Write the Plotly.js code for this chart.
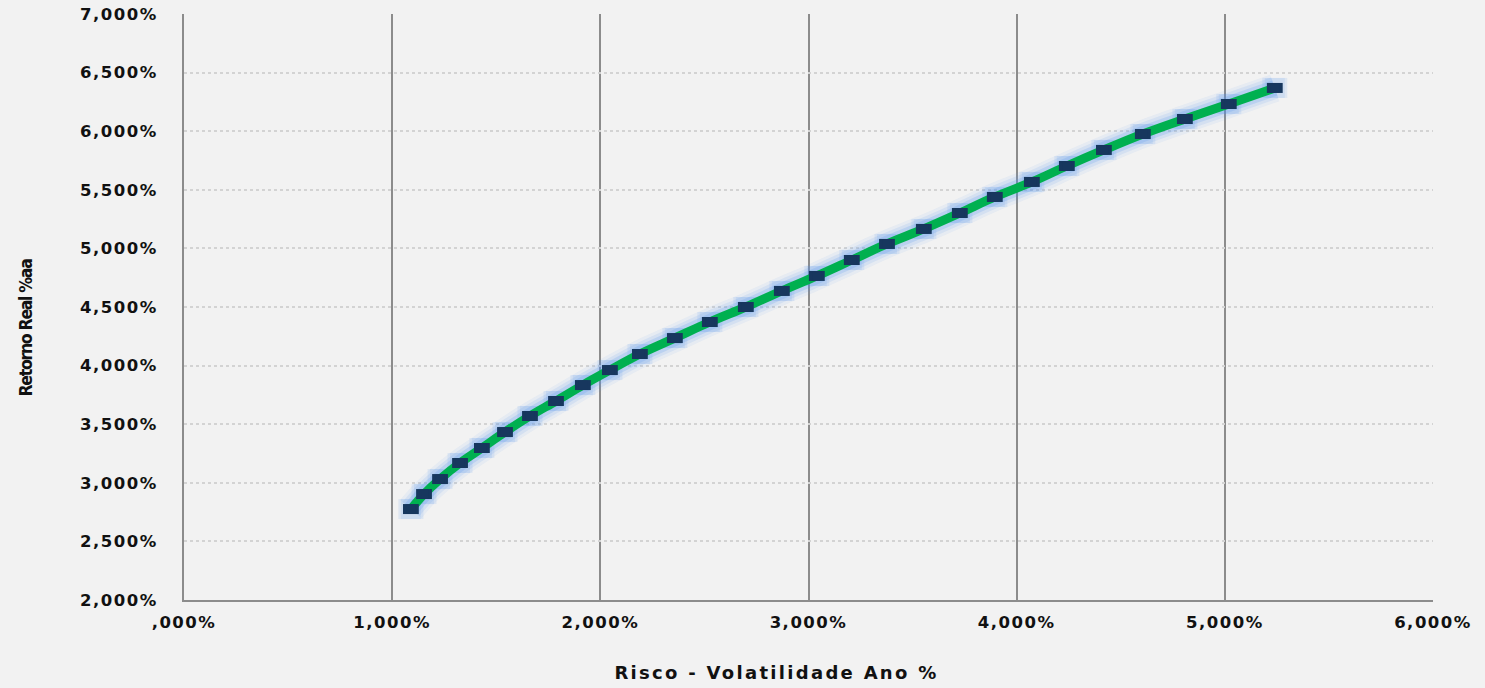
<!DOCTYPE html>
<html>
<head>
<meta charset="utf-8">
<script src="https://cdn.plot.ly/plotly-3.0.1.min.js"></script>
<style>
html,body{margin:0;padding:0;background:#F2F2F2;}
#chart{width:1485px;height:688px;}
#chart .xtick text, #chart .ytick text{letter-spacing:1.5px;}
#chart .xtitle{letter-spacing:2.3px; translate:-32px 0px;}
#chart .ytitle{letter-spacing:-1.3px; translate:-2px 21px;}
</style>
</head>
<body>
<div id="chart"></div>
<script>
// Risco (volatilidade, % a.a.) and Retorno Real (% a.a.)
var risco = [1.090, 1.153, 1.230, 1.326, 1.431, 1.542, 1.662, 1.787, 1.916, 2.046,
             2.190, 2.358, 2.526, 2.699, 2.872, 3.040, 3.208, 3.377, 3.554, 3.727,
             3.895, 4.073, 4.241, 4.419, 4.606, 4.808, 5.019, 5.240];
var retorno = [2.776, 2.904, 3.032, 3.169, 3.297, 3.433, 3.570, 3.698, 3.834, 3.962,
               4.099, 4.235, 4.372, 4.500, 4.637, 4.765, 4.901, 5.038, 5.166, 5.302,
               5.439, 5.567, 5.703, 5.840, 5.976, 6.104, 6.232, 6.369];
var xTickVals = [0, 1, 2, 3, 4, 5, 6];
var xTickText = [",000%", "1,000%", "2,000%", "3,000%", "4,000%", "5,000%", "6,000%"];
var yTickVals = [2, 2.5, 3, 3.5, 4, 4.5, 5, 5.5, 6, 6.5, 7];
var yTickText = ["2,000%", "2,500%", "3,000%", "3,500%", "4,000%", "4,500%",
                 "5,000%", "5,500%", "6,000%", "6,500%", "7,000%"];

function glow(w, a) {
  return {x: risco, y: retorno, type: 'scatter', mode: 'lines', hoverinfo: 'skip',
    line: {color: 'rgba(85,150,240,' + a + ')', width: w, shape: 'spline'}, showlegend: false};
}
var markerGlow = {x: risco, y: retorno, type: 'scatter', mode: 'markers', hoverinfo: 'skip',
  marker: {symbol: 'square', size: 20, color: 'rgba(85,150,240,0.12)'},
  error_x: {type: 'constant', value: 0.06, color: 'rgba(85,150,240,0.12)', thickness: 20, width: 0},
  showlegend: false};
var curve = {x: risco, y: retorno, type: 'scatter', mode: 'lines', name: 'Fronteira',
  line: {color: '#00B050', width: 9, shape: 'spline'}, showlegend: false};
var pts = {x: risco, y: retorno, type: 'scatter', mode: 'markers', name: 'Carteiras',
  marker: {symbol: 'square', size: 9, color: '#17375E'},
  error_x: {type: 'constant', value: 0.038, color: '#17375E', thickness: 10, width: 0},
  showlegend: false};

var tickFont = {family: 'DejaVu Sans', size: 16.5, color: '#111111', weight: 'bold'};

var layout = {
  width: 1485, height: 688,
  paper_bgcolor: '#F2F2F2', plot_bgcolor: '#F2F2F2',
  margin: {l: 184, r: 52, t: 14, b: 88},
  showlegend: false,
  xaxis: {
    range: [0, 6], tickvals: xTickVals, ticktext: xTickText,
    tickfont: tickFont, ticks: '', ticklabelstandoff: 6,
    showgrid: true, gridcolor: '#8C8C8C', gridwidth: 2,
    zeroline: false, showline: true, linecolor: '#8C8C8C', linewidth: 2,
    automargin: false,
    title: {text: 'Risco - Volatilidade Ano %', standoff: 36,
      font: {family: 'DejaVu Sans', size: 18, color: '#111111', weight: 'bold'}}
  },
  yaxis: {
    range: [2, 7], tickvals: yTickVals, ticktext: yTickText,
    tickfont: tickFont, ticks: '', ticklabelstandoff: 21,
    showgrid: true, gridcolor: '#D3D3D3', gridwidth: 2, griddash: 'dot',
    zeroline: false, showline: true, linecolor: '#8C8C8C', linewidth: 2,
    automargin: false,
    title: {text: 'Retorno Real %aa', standoff: 50,
      font: {family: 'DejaVu Sans Condensed', size: 17.5, color: '#111111', weight: 'bold'}}
  }
};

Plotly.newPlot('chart', [glow(28, 0.08), glow(22, 0.12), glow(16, 0.2), markerGlow, curve, pts],
  layout, {displayModeBar: false, staticPlot: true});
</script>
</body>
</html>
